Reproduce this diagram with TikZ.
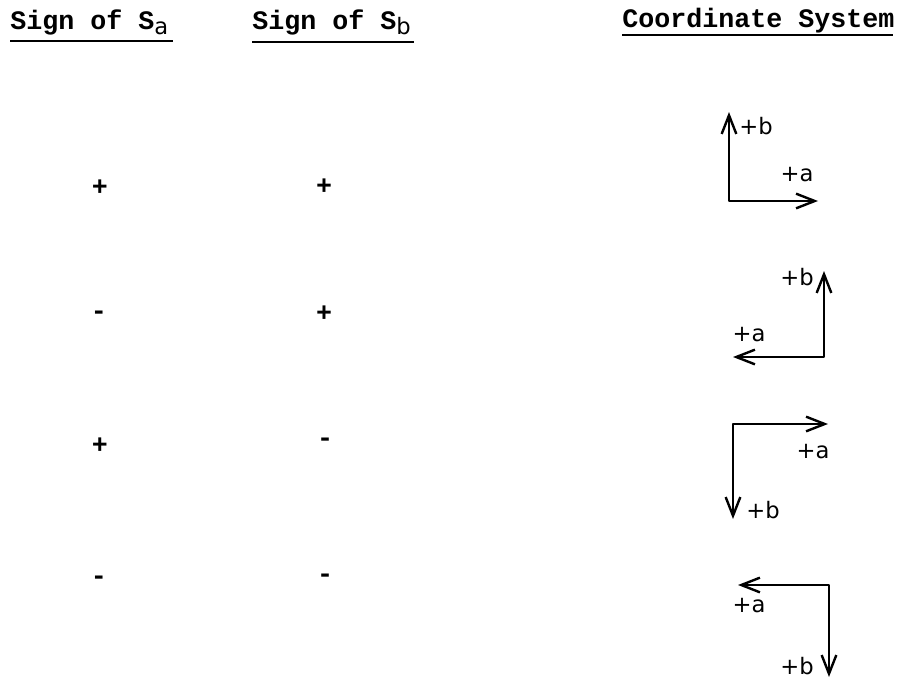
\documentclass[tikz,border=0pt]{standalone}
\usepackage{fontspec}
\setmainfont{Liberation Mono}
\newfontfamily\lblfont{DejaVu Sans}
\usetikzlibrary{arrows.meta}
\tikzset{
  head/.style={anchor=base west, inner sep=0pt, font=\bfseries\fontsize{20}{24}\selectfont},
  uline/.style={line width=1.6pt},
  sgn/.style={inner sep=0pt, font=\bfseries\fontsize{20}{24}\selectfont},
  lbl/.style={inner sep=0pt, font=\lblfont\fontsize{17}{18}\selectfont},
  axis/.style={line width=1.8pt, line join=round, {Straight Barb[length=14pt,width=11pt,line width=1.8pt]}-{Straight Barb[length=14pt,width=11pt,line width=1.8pt]}}
}
\newcommand{\subsc}[1]{\raisebox{-4pt}{\lblfont\mdseries\fontsize{17}{18}\selectfont #1}}
\begin{document}
\begin{tikzpicture}[x=0.75pt,y=-0.75pt]
\useasboundingbox (0,0) rectangle (901,678);
% headers
\node[head] (h1) at (10,29) {Sign of S\subsc{a}};
\node[head] (h2) at (252,29) {Sign of S\subsc{b}};
\node[head] (h3) at (622,27) {Coordinate System};
\draw[uline] (10,41) -- (173,41);
\draw[uline] (252,42) -- (414,42);
\draw[uline] (622,35) -- (893,35);
% signs
\node[sgn] (s11) at (100,188) {+};
\node[sgn] (s12) at (324,187) {+};
\node[sgn] (s21) at (99,315) {-};
\node[sgn] (s22) at (324,314) {+};
\node[sgn] (s31) at (100,446) {+};
\node[sgn] (s32) at (325,442) {-};
\node[sgn] (s41) at (99,580) {-};
\node[sgn] (s42) at (325,578) {-};
% row 1
\coordinate (o1) at (729,201);
\coordinate (b1) at (729,112);
\coordinate (a1) at (818,201);
\draw[axis] (b1) -- (o1) -- (a1);
\node[lbl] (lb1) at (756,126) {+b};
\node[lbl] (la1) at (797,175) {+a};
% row 2
\coordinate (o2) at (824,357);
\coordinate (b2) at (824,271);
\coordinate (a2) at (733,357);
\draw[axis] (b2) -- (o2) -- (a2);
\node[lbl] (lb2) at (797,277) {+b};
\node[lbl] (la2) at (749,335) {+a};
% row 3
\coordinate (o3) at (733,424);
\coordinate (a3) at (828,424);
\coordinate (b3) at (733,519);
\draw[axis] (a3) -- (o3) -- (b3);
\node[lbl] (la3) at (813,452) {+a};
\node[lbl] (lb3) at (763,510) {+b};
% row 4
\coordinate (o4) at (829,585);
\coordinate (a4) at (738,585);
\coordinate (b4) at (829,677);
\draw[axis] (a4) -- (o4) -- (b4);
\node[lbl] (la4) at (749,606) {+a};
\node[lbl] (lb4) at (797,666) {+b};
\end{tikzpicture}
\end{document}
